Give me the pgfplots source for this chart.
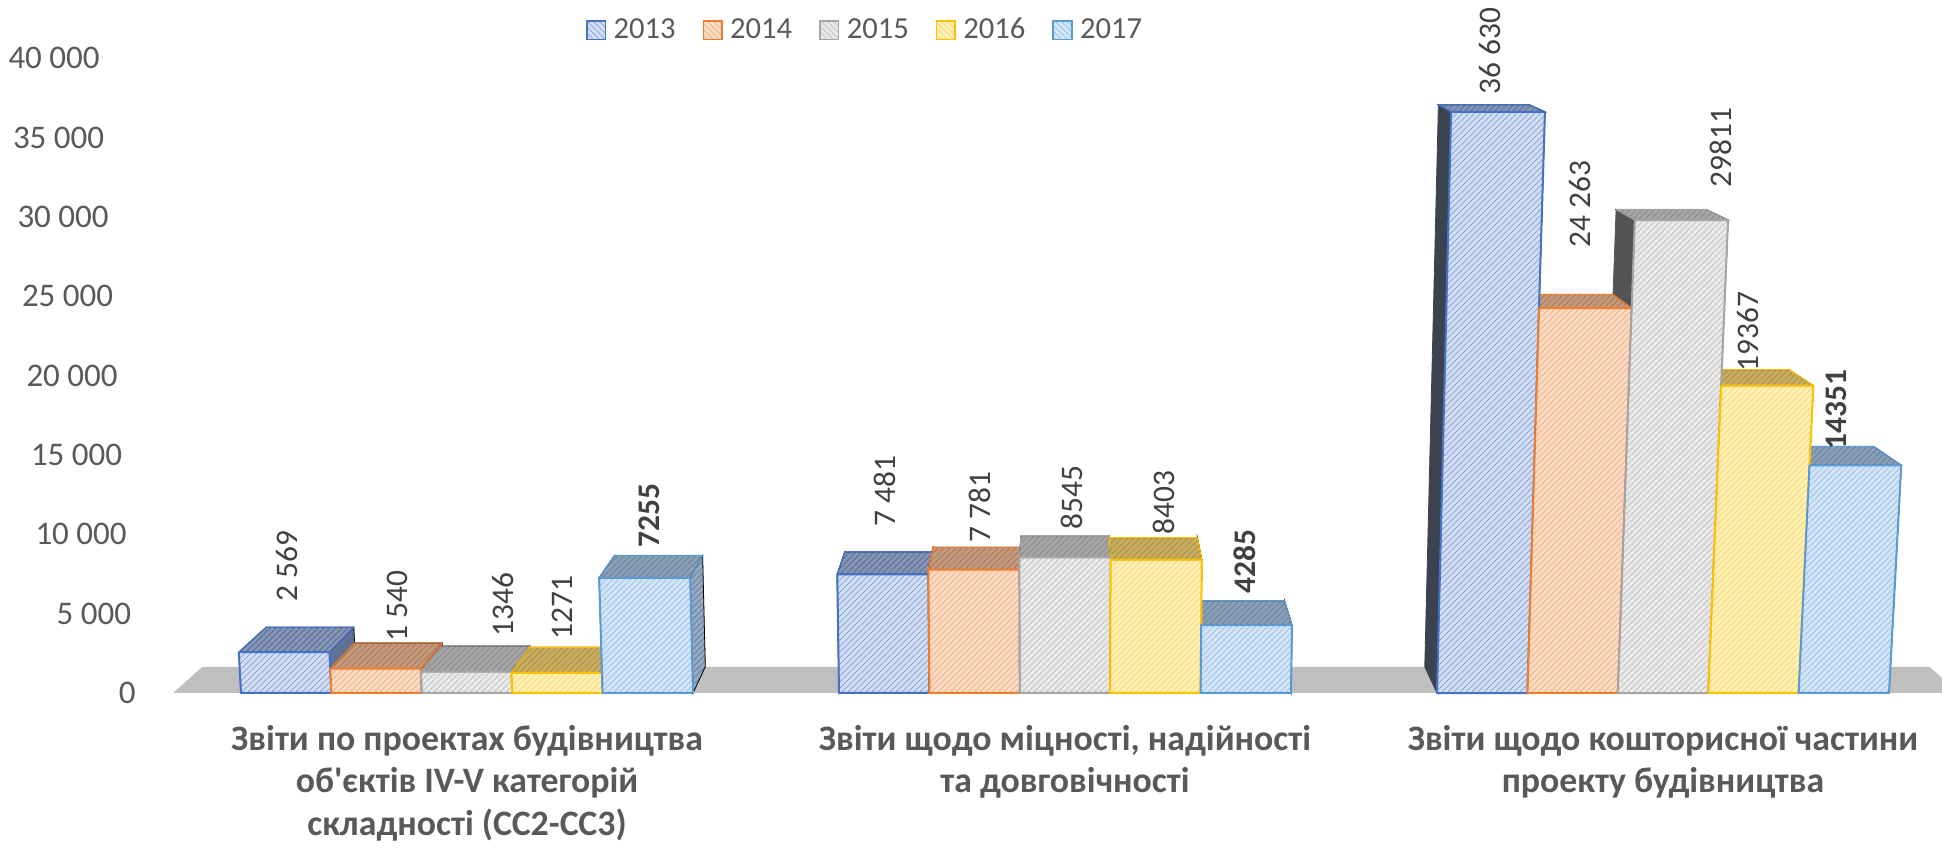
\documentclass[border=0pt]{standalone}
\usepackage{fontspec}
\setmainfont{Carlito}
\usepackage{pgfplots}
\usepackage{pgfplotstable}
\pgfplotsset{compat=1.18}
\usetikzlibrary{patterns}

\definecolor{txt}{HTML}{595959}
\definecolor{labc}{HTML}{404040}
\definecolor{floorc}{HTML}{BFBFBF}
% 2013
\definecolor{b13}{HTML}{4472C4}\definecolor{f13}{HTML}{D3DEF3}\definecolor{h13}{HTML}{8EA9DB}
\definecolor{t13}{HTML}{8495B5}\definecolor{ht13}{HTML}{5C6F94}\definecolor{s13}{HTML}{5F7398}\definecolor{d13}{HTML}{3B4250}
% 2014
\definecolor{b14}{HTML}{ED7D31}\definecolor{f14}{HTML}{FBDCC6}\definecolor{h14}{HTML}{F4B183}
\definecolor{t14}{HTML}{C69A7C}\definecolor{ht14}{HTML}{A7785A}\definecolor{s14}{HTML}{9C6A4A}\definecolor{d14}{HTML}{4F4540}
% 2015
\definecolor{b15}{HTML}{A5A5A5}\definecolor{f15}{HTML}{E9E9E9}\definecolor{h15}{HTML}{C4C4C4}
\definecolor{t15}{HTML}{A6A6A6}\definecolor{ht15}{HTML}{8A8A8A}\definecolor{s15}{HTML}{7F7F7F}\definecolor{d15}{HTML}{545454}
% 2016
\definecolor{b16}{HTML}{FFC000}\definecolor{f16}{HTML}{FFF1BC}\definecolor{h16}{HTML}{FFD966}
\definecolor{t16}{HTML}{C9AE62}\definecolor{ht16}{HTML}{A88F45}\definecolor{s16}{HTML}{A08A4A}\definecolor{d16}{HTML}{55503E}
% 2017
\definecolor{b17}{HTML}{5B9BD5}\definecolor{f17}{HTML}{D3E5F6}\definecolor{h17}{HTML}{9DC3E6}
\definecolor{t17}{HTML}{8A9FB8}\definecolor{ht17}{HTML}{6B8199}\definecolor{s17}{HTML}{97AAC2}\definecolor{d17}{HTML}{414A55}

\pgfdeclareplotmark{emptymark}{}

\newcommand\bw{22.6}
\newcommand\cc{0.033}
\newcommand\bargeom[1]{%
  \begingroup
    \pgfkeys{/pgf/fpu=true,/pgf/fpu/output format=fixed}%
    \pgfmathparse{\val/1000*7.9325}%
    \xdef\hh{\pgfmathresult}%
  \endgroup
  \pgfmathsetmacro\tx{(\grp+0.15117*(#1)+0.78094)*299}%
  \pgfmathsetmacro\ty{78.5+\hh}%
  \pgfmathsetmacro\vx{533-(\tx)}%
  \pgfmathsetmacro\vy{476-(\ty)}%
  \pgfmathsetmacro\lL{(-(\bw)-(\vx))/7650*\hh}%
  \pgfmathsetmacro\lR{((\bw)-(\vx))/7650*\hh}%
  \pgfmathsetmacro\FLx{-(\bw)+(\lL)}%
  \pgfmathsetmacro\FRx{(\bw)+(\lR)}%
  \pgfmathsetmacro\BLx{-(\bw)+\cc*((\vx)+(\bw))}%
  \pgfmathsetmacro\BRx{(\bw)+\cc*((\vx)-(\bw))}%
  \pgfmathsetmacro\By{-(\hh)+\cc*((\vy)+(\hh))}%
  \pgfmathsetmacro\TLx{(\FLx)+\cc*((\vx)-(\FLx))}%
  \pgfmathsetmacro\TRx{(\FRx)+\cc*((\vx)-(\FRx))}%
  \pgfmathsetmacro\Ty{\cc*(\vy)}%
}
\newcommand\drawside[2]{%
  \bargeom{#1}%
  \fill[s#2] (\bw pt,-\hh pt) -- (\FRx pt,0pt) -- (\TRx pt,\Ty pt) -- (\BRx pt,\By pt) -- cycle;
  \fill[pattern=north east lines, pattern color=ht#2] (\bw pt,-\hh pt) -- (\FRx pt,0pt) -- (\TRx pt,\Ty pt) -- (\BRx pt,\By pt) -- cycle;
  \fill[d#2] (-\bw pt,-\hh pt) -- (\FLx pt,0pt) -- (\TLx pt,\Ty pt) -- (\BLx pt,\By pt) -- cycle;
}
\newcommand\drawtop[2]{%
  \bargeom{#1}%
  \fill[t#2] (\FLx pt,0pt) -- (\FRx pt,0pt) -- (\TRx pt,\Ty pt) -- (\TLx pt,\Ty pt) -- cycle;
  \fill[pattern=north east lines, pattern color=ht#2] (\FLx pt,0pt) -- (\FRx pt,0pt) -- (\TRx pt,\Ty pt) -- (\TLx pt,\Ty pt) -- cycle;
  \draw[b#2, line width=0.6pt, line join=round] (\FLx pt,0pt) -- (\FRx pt,0pt) -- (\TRx pt,\Ty pt) -- (\TLx pt,\Ty pt) -- cycle;
}
\newcommand\drawfront[2]{%
  \bargeom{#1}%
  \fill[f#2] (-\bw pt,-\hh pt) -- (\bw pt,-\hh pt) -- (\FRx pt,0pt) -- (\FLx pt,0pt) -- cycle;
  \fill[pattern=north east lines, pattern color=h#2] (-\bw pt,-\hh pt) -- (\bw pt,-\hh pt) -- (\FRx pt,0pt) -- (\FLx pt,0pt) -- cycle;
  \draw[b#2, line width=1pt, line join=round] (-\bw pt,-\hh pt) -- (\bw pt,-\hh pt) -- (\FRx pt,0pt) -- (\FLx pt,0pt) -- cycle;
}

\pgfplotsset{
  barpass/.style n args={3}{forget plot, only marks, mark=emptymark, scatter,
    visualization depends on={\thisrow{g} \as \grp},
    visualization depends on={\thisrow{a#3} \as \val},
    scatter/@pre marker code/.code={\csname draw#1\endcsname{#2}{#3}},
    scatter/@post marker code/.code={}},
  legsq/.style={legend image code/.code={%
    \fill[f#1] (0pt,-4.65pt) rectangle (9.3pt,4.65pt);
    \fill[pattern=north west lines, pattern color=h#1] (0pt,-4.65pt) rectangle (9.3pt,4.65pt);
    \draw[b#1, line width=0.8pt] (0pt,-4.65pt) rectangle (9.3pt,4.65pt);}},
}

\pgfplotstableread{
g  a13   a14   a15   a16   a17
0  2569  1540  1346  1271  7255
1  7481  7781  8545  8403  4285
2  36630 24263 29811 19367 14351
}\data

\begin{document}
\begin{tikzpicture}
\begin{axis}[
  at={(0pt,78.5pt)}, anchor=south west,
  scale only axis, width=971pt, height=317.3pt,
  xmin=-0.78094, xmax=2.46655, ymin=0, ymax=40000,
  clip=false,
  axis line style={draw=none}, tick style={draw=none}, major tick length=0pt,
  scaled ticks=false,
  xtick={0,1,2},
  xticklabels={{Звіти по проектах будівництва\\об\textquotesingle єктів IV-V категорій\\складності (СС2-СС3)},
               {Звіти щодо міцності, надійності\\та довговічності},
               {Звіти щодо кошторисної частини\\проекту будівництва}},
  xticklabel style={align=center, font=\bfseries\fontsize{17.9}{21.3}\selectfont, text=txt, yshift=-12.5pt},
  ytick={0,5000,10000,15000,20000,25000,30000,35000,40000},
  yticklabels={0, 5 000\hspace*{2.25pt}, 10 000\hspace*{4.5pt}, 15 000\hspace*{6.75pt}, 20 000\hspace*{9pt},
               25 000\hspace*{11.25pt}, 30 000\hspace*{13.5pt}, 35 000\hspace*{15.75pt}, 40 000\hspace*{18pt}},
  yticklabel style={anchor=east, inner sep=0pt, xshift=68pt, font=\fontsize{16.5}{20}\selectfont, text=txt},
  legend columns=5,
  legend style={at={(rel axis cs:0.4449,1.0447)}, anchor=center, draw=none, fill=none,
    font=\fontsize{15.3}{18}\selectfont, text=txt,
    nodes={inner sep=0pt},
    /tikz/every odd column/.append style={column sep=3.7pt},
    /tikz/every even column/.append style={column sep=13.5pt}},
]
% floor
\addplot[forget plot, fill=floorc, draw=none, mark=none]
  coordinates {(-0.49164,0) (-0.44231,1651) (2.44565,1651) (2.49498,0)};
% pass 1: side faces
\addplot[barpass={side}{-2}{13}] table[x expr=\thisrow{g}-2*0.15117, y=a13] {\data};
\addplot[barpass={side}{-1}{14}] table[x expr=\thisrow{g}-0.15117, y=a14] {\data};
\addplot[barpass={side}{0}{15}]  table[x expr=\thisrow{g}, y=a15] {\data};
\addplot[barpass={side}{1}{16}]  table[x expr=\thisrow{g}+0.15117, y=a16] {\data};
\addplot[barpass={side}{2}{17}]  table[x expr=\thisrow{g}+2*0.15117, y=a17] {\data};
% pass 2: top faces
\addplot[barpass={top}{-2}{13}] table[x expr=\thisrow{g}-2*0.15117, y=a13] {\data};
\addplot[barpass={top}{-1}{14}] table[x expr=\thisrow{g}-0.15117, y=a14] {\data};
\addplot[barpass={top}{0}{15}]  table[x expr=\thisrow{g}, y=a15] {\data};
\addplot[barpass={top}{1}{16}]  table[x expr=\thisrow{g}+0.15117, y=a16] {\data};
\addplot[barpass={top}{2}{17}]  table[x expr=\thisrow{g}+2*0.15117, y=a17] {\data};
% pass 3: front faces
\addplot[barpass={front}{-2}{13}] table[x expr=\thisrow{g}-2*0.15117, y=a13] {\data};
\addplot[barpass={front}{-1}{14}] table[x expr=\thisrow{g}-0.15117, y=a14] {\data};
\addplot[barpass={front}{0}{15}]  table[x expr=\thisrow{g}, y=a15] {\data};
\addplot[barpass={front}{1}{16}]  table[x expr=\thisrow{g}+0.15117, y=a16] {\data};
\addplot[barpass={front}{2}{17}]  table[x expr=\thisrow{g}+2*0.15117, y=a17] {\data};
% value labels
\addplot[forget plot, draw=none, mark=none, nodes near coords, point meta=explicit symbolic,
  visualization depends on={\thisrow{dx} \as \ldx},
  visualization depends on={\thisrow{dy} \as \ldy},
  every node near coord/.style={xshift=\ldx pt, yshift=\ldy pt, rotate=90, anchor=west, inner sep=0pt,
    font=\fontsize{15.7}{18}\selectfont, text=labc}]
  table[col sep=comma, row sep=\\, x=x, y=y, meta=lab] {
x,y,dx,dy,lab\\
-0.30234,2569,0.4,25.1,2 569\\
-0.15117,1540,10.2,13.3,1 540\\
0,1346,18,17.3,1346\\
0.15117,1271,2.3,16.4,1271\\
0.30234,7255,0.6,15,\textbf{7255}\\
0.69766,7481,0.4,23.7,7 481\\
0.84883,7781,2.7,13.3,7 781\\
1,8545,3.5,13.7,8545\\
1.15117,8403,4.3,12.4,8403\\
1.30234,4285,-0.4,15.5,\textbf{4285}\\
1.69766,36630,3.7,8.5,36 630\\
1.84883,24263,3.5,30,24 263\\
2,29811,29,16,29811\\
2.15117,19367,-2.5,6.9,19367\\
2.30234,14351,-3.7,7.7,\textbf{14351}\\
};
\addlegendimage{legsq=13}\addlegendentry{2013}
\addlegendimage{legsq=14}\addlegendentry{2014}
\addlegendimage{legsq=15}\addlegendentry{2015}
\addlegendimage{legsq=16}\addlegendentry{2016}
\addlegendimage{legsq=17}\addlegendentry{2017}
\end{axis}
\pgfresetboundingbox
\path (0pt,0pt) rectangle (971pt,425pt);
\end{tikzpicture}
\end{document}
